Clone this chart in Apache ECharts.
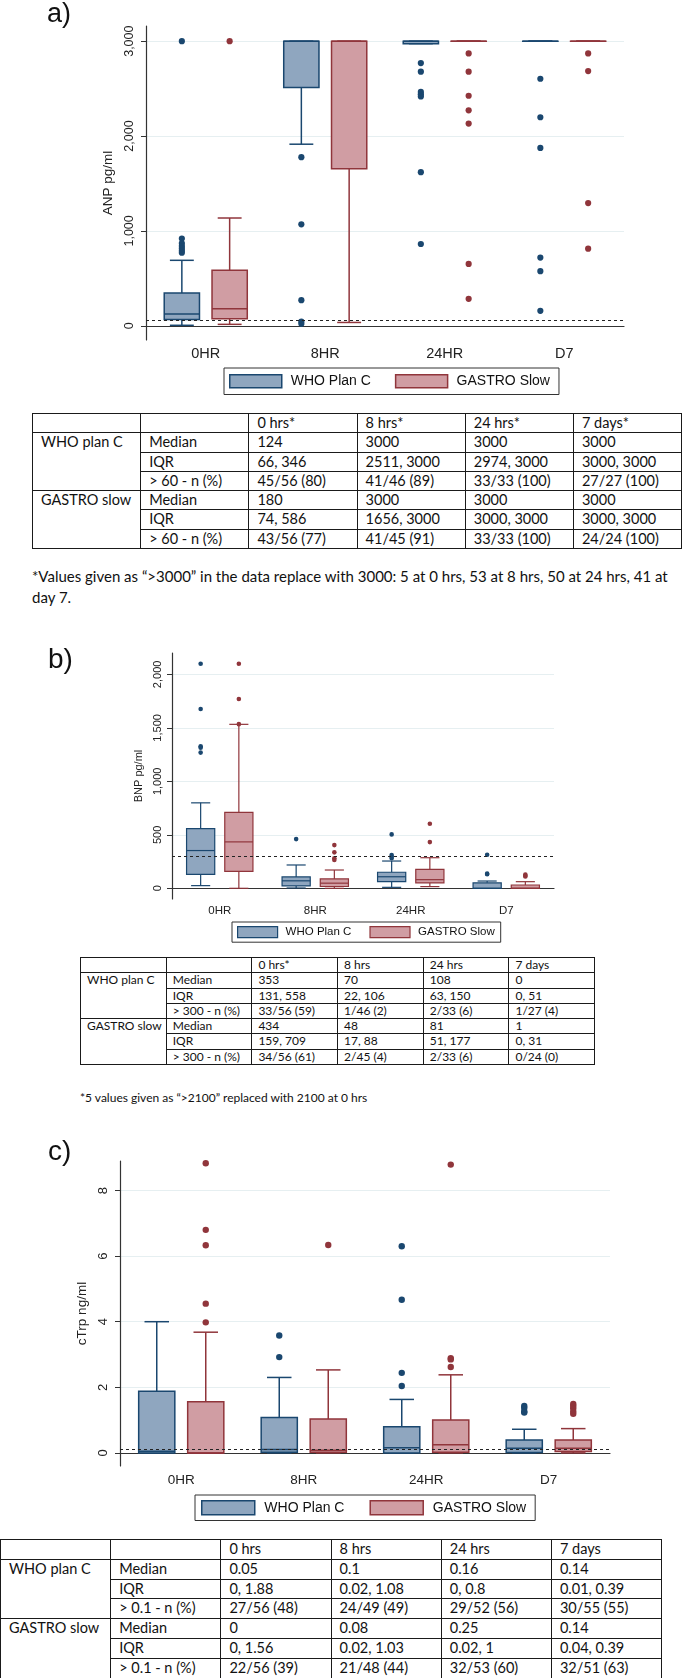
<!DOCTYPE html>
<html><head><meta charset="utf-8">
<script src="https://cdn.jsdelivr.net/npm/echarts@6/dist/echarts.min.js"></script>
<style>
html,body{margin:0;padding:0;background:#fff;}
body{width:682px;height:1678px;position:relative;overflow:hidden;}
.chart{position:absolute;left:0;width:682px;}
table.tb{position:absolute;border-collapse:collapse;table-layout:fixed;font-family:Lato,'Liberation Sans',sans-serif;color:#111;}
table.tb td{border:1px solid #1a1a1a;padding:0;white-space:nowrap;overflow:hidden;vertical-align:top;}
.note{position:absolute;font-family:Lato,'Liberation Sans',sans-serif;color:#111;white-space:nowrap;}
</style></head><body>
<div id="ca" class="chart" style="top:0;height:400px"></div>
<div id="cb" class="chart" style="top:620px;height:330px"></div>
<div id="cc" class="chart" style="top:1130px;height:400px"></div>
<script>
// ---------------- data ----------------
const categories = ['0HR', '8HR', '24HR', 'D7'];
const seriesNames = ['WHO Plan C', 'GASTRO Slow'];

// a) ANP pg/ml : [lower whisker, q1, median, q3, upper whisker]
const anpWhoBox = [[5, 66, 124, 346, 690], [1914, 2511, 3000, 3000, 3000], [2974, 2974, 3000, 3000, 3000], [3000, 3000, 3000, 3000, 3000]];
const anpGastroBox = [[15, 74, 180, 586, 1136], [35, 1656, 3000, 3000, 3000], [3000, 3000, 3000, 3000, 3000], [3000, 3000, 3000, 3000, 3000]];
const anpWhoOut = [[3000, 920, 870, 840, 815, 790, 770], [1777, 1069, 270, 45, 20], [2769, 2678, 2465, 2440, 2418, 1619, 862], [2604, 2198, 1875, 719, 575, 158]];
const anpGastroOut = [[3000], [], [2871, 2678, 2425, 2271, 2131, 652, 284], [2871, 2685, 1293, 813]];
const anpTicks = [0, 1000, 2000, 3000];
const anpRef = 60;

// b) BNP pg/ml
const bnpWhoBox = [[25, 131, 353, 558, 799], [3, 22, 70, 106, 218], [9, 63, 108, 150, 255], [0, 0, 0, 51, 68]];
const bnpGastroBox = [[0, 159, 434, 709, 1533], [0, 17, 48, 88, 171], [16, 51, 81, 177, 286], [0, 0, 1, 31, 62]];
const bnpWhoOut = [[2100, 1676, 1328, 1315, 1269], [460], [504, 311, 295, 282], [314, 137, 131]];
const bnpGastroOut = [[2100, 1770, 1535], [404, 336, 280, 264], [603, 432], [128, 118, 110]];
const bnpTicks = [0, 500, 1000, 1500, 2000];
const bnpRef = 300;

// c) cTrp ng/ml
const trpWhoBox = [[0, 0, 0.05, 1.88, 4.0], [0, 0.02, 0.1, 1.08, 2.30], [0, 0, 0.16, 0.8, 1.63], [0, 0.01, 0.14, 0.39, 0.72]];
const trpGastroBox = [[0, 0, 0, 1.56, 3.68], [0, 0.02, 0.08, 1.03, 2.53], [0, 0.02, 0.25, 1.0, 2.38], [0, 0.04, 0.14, 0.39, 0.74]];
const trpWhoOut = [[], [3.58, 2.92], [6.30, 4.67, 2.44, 2.04], [1.43, 1.37, 1.26, 1.23]];
const trpGastroOut = [[8.83, 6.80, 6.33, 4.55, 3.98], [6.34], [8.79, 2.89, 2.85, 2.62], [1.49, 1.43, 1.36, 1.26, 1.19]];
const trpTicks = [0, 2, 4, 6, 8];
const trpRef = 0.1;

// tables
const groupLabels = ['WHO plan C', 'GASTRO slow'];
const statLabels = ['Median', 'IQR'];
const tableAHead = ['0 hrs*', '8 hrs*', '24 hrs*', '7 days*'];
const tableAThreshold = '> 60 - n (%)';
const tableAWho = [['124', '3000', '3000', '3000'], ['66, 346', '2511, 3000', '2974, 3000', '3000, 3000'], ['45/56 (80)', '41/46 (89)', '33/33 (100)', '27/27 (100)']];
const tableAGastro = [['180', '3000', '3000', '3000'], ['74, 586', '1656, 3000', '3000, 3000', '3000, 3000'], ['43/56 (77)', '41/45 (91)', '33/33 (100)', '24/24 (100)']];
const noteA = ['*Values given as \u201c>3000\u201d in the data replace with 3000: 5 at 0 hrs, 53 at 8 hrs, 50 at 24 hrs, 41 at', 'day 7.'];

const tableBHead = ['0 hrs*', '8 hrs', '24 hrs', '7 days'];
const tableBThreshold = '> 300 - n (%)';
const tableBWho = [['353', '70', '108', '0'], ['131, 558', '22, 106', '63, 150', '0, 51'], ['33/56 (59)', '1/46 (2)', '2/33 (6)', '1/27 (4)']];
const tableBGastro = [['434', '48', '81', '1'], ['159, 709', '17, 88', '51, 177', '0, 31'], ['34/56 (61)', '2/45 (4)', '2/33 (6)', '0/24 (0)']];
const noteB = ['*5 values given as \u201c>2100\u201d replaced with 2100 at 0 hrs'];

const tableCHead = ['0 hrs', '8 hrs', '24 hrs', '7 days'];
const tableCThreshold = '> 0.1 - n (%)';
const tableCWho = [['0.05', '0.1', '0.16', '0.14'], ['0, 1.88', '0.02, 1.08', '0, 0.8', '0.01, 0.39'], ['27/56 (48)', '24/49 (49)', '29/52 (56)', '30/55 (55)']];
const tableCGastro = [['0', '0.08', '0.25', '0.14'], ['0, 1.56', '0.02, 1.03', '0.02, 1', '0.04, 0.39'], ['22/56 (39)', '21/48 (44)', '32/53 (60)', '32/51 (63)']];

// ---------------- styles ----------------
const WHO_LINE = '#1a476f', WHO_FILL = '#8fa6bf';
const GAS_LINE = '#90353b', GAS_FILL = '#d09da3';
const BOX_W = 0.295, CAP_W = 0.2, OFF = 0.2;
const SANS = 'Liberation Sans';

function boxRender(offset, fill, stroke, lw) {
  return function (params, api) {
    const c = api.value(0);
    const band = api.size([1, 0])[0];
    const cx = api.coord([c, 0])[0] + offset * band;
    const w = BOX_W * band, cap = CAP_W * band;
    const y = [1, 2, 3, 4, 5].map(d => api.coord([c, api.value(d)])[1]);
    const ls = { stroke: stroke, lineWidth: lw, fill: null };
    return { type: 'group', children: [
      { type: 'line', shape: { x1: cx, y1: y[1], x2: cx, y2: y[0] }, style: ls },
      { type: 'line', shape: { x1: cx, y1: y[3], x2: cx, y2: y[4] }, style: ls },
      { type: 'line', shape: { x1: cx - cap / 2, y1: y[0], x2: cx + cap / 2, y2: y[0] }, style: ls },
      { type: 'line', shape: { x1: cx - cap / 2, y1: y[4], x2: cx + cap / 2, y2: y[4] }, style: ls },
      { type: 'rect', shape: { x: cx - w / 2, y: y[3], width: w, height: Math.max(y[1] - y[3], 0.01) }, style: { fill: fill, stroke: stroke, lineWidth: lw } },
      { type: 'line', shape: { x1: cx - w / 2, y1: y[2], x2: cx + w / 2, y2: y[2] }, style: ls }
    ]};
  };
}
function dotRender(offset, color, r) {
  return function (params, api) {
    const band = api.size([1, 0])[0];
    const p = api.coord([api.value(0), api.value(1)]);
    return { type: 'circle', shape: { cx: p[0] + offset * band, cy: p[1], r: r }, style: { fill: color } };
  };
}
function boxData(box) { return categories.map((c, i) => [c].concat(box[i])); }
function outData(out) { const d = []; categories.forEach((c, i) => out[i].forEach(v => d.push([c, v]))); return d; }

function makeOption(cfg) {
  const fmt = v => Number(v).toLocaleString('en-US');
  return {
    animation: false,
    graphic: [{ type: 'text', left: cfg.letterPos[0], top: cfg.letterPos[1], style: { text: cfg.letter, font: cfg.letterFont, fill: '#111' } }],
    grid: Object.assign({ outerBoundsMode: 'none', containLabel: false }, cfg.grid),
    legend: {
      left: cfg.legend.left, top: cfg.legend.top, orient: 'horizontal', selectedMode: false,
      itemWidth: cfg.legend.iw, itemHeight: cfg.legend.ih, itemGap: cfg.legend.gap,
      padding: cfg.legend.pad, borderColor: '#333', borderWidth: 1, borderRadius: 0, backgroundColor: '#fff',
      icon: 'rect',
      textStyle: { fontFamily: SANS, fontSize: cfg.legend.fs, color: '#111', padding: [0, 0, 0, cfg.legend.tp], lineHeight: cfg.legend.ih },
      data: [
        { name: seriesNames[0], itemStyle: { color: WHO_FILL, borderColor: WHO_LINE, borderWidth: cfg.lw } },
        { name: seriesNames[1], itemStyle: { color: GAS_FILL, borderColor: GAS_LINE, borderWidth: cfg.lw } }
      ]
    },
    xAxis: {
      type: 'category', data: categories, boundaryGap: true,
      axisLine: { lineStyle: { color: '#333', width: 1.2 } }, axisTick: { show: false },
      axisLabel: { margin: cfg.xMargin, fontFamily: SANS, fontSize: cfg.xfs, color: '#222' },
      splitLine: { show: false }
    },
    yAxis: {
      type: 'value', min: cfg.min, max: cfg.max,
      name: cfg.yName, nameLocation: 'middle', nameGap: cfg.nameGap, nameRotate: 90,
      nameTextStyle: { fontFamily: SANS, fontSize: cfg.nfs, color: '#222' },
      axisLine: { show: true, lineStyle: { color: '#333', width: 1.2 } },
      axisTick: { show: true, length: 5, inside: false, customValues: cfg.ticks, lineStyle: { color: '#333' } },
      axisLabel: { rotate: 90, margin: cfg.yMargin, customValues: cfg.ticks, formatter: fmt, fontFamily: SANS, fontSize: cfg.yfs, color: '#222' },
      splitLine: { show: true, lineStyle: { color: '#e6eff1', width: 1 } }
    },
    series: [
      { type: 'custom', name: seriesNames[0], silent: true, encode: { x: 0, y: [1, 2, 3, 4, 5] }, itemStyle: { color: WHO_FILL, borderColor: WHO_LINE }, renderItem: boxRender(-OFF, WHO_FILL, WHO_LINE, cfg.lw), data: boxData(cfg.whoBox), z: 2 },
      { type: 'custom', name: seriesNames[1], silent: true, encode: { x: 0, y: [1, 2, 3, 4, 5] }, itemStyle: { color: GAS_FILL, borderColor: GAS_LINE }, renderItem: boxRender(OFF, GAS_FILL, GAS_LINE, cfg.lw), data: boxData(cfg.gasBox), z: 2 },
      { type: 'custom', name: seriesNames[0], silent: true, encode: { x: 0, y: 1 }, renderItem: dotRender(-OFF, WHO_LINE, cfg.r), data: outData(cfg.whoOut), z: 3 },
      { type: 'custom', name: seriesNames[1], silent: true, encode: { x: 0, y: 1 }, renderItem: dotRender(OFF, GAS_LINE, cfg.r), data: outData(cfg.gasOut), z: 3 },
      { type: 'line', name: 'ref', data: [], silent: true, z: 5,
        markLine: { silent: true, symbol: 'none', label: { show: false }, animation: false,
          lineStyle: { type: [3, 3], color: '#222', width: 1 }, data: [{ yAxis: cfg.ref }] } }
    ]
  };
}

const chartA = echarts.init(document.getElementById('ca'), null, { renderer: 'canvas' });
chartA.setOption(makeOption({
  letter: 'a)', letterPos: [47, 1], letterFont: '27px "Liberation Sans"',
  grid: { left: 146, right: 58, top: 26, bottom: 60 },
  legend: { left: 224, top: 368, iw: 52, ih: 13, gap: 24, pad: [6, 9, 6, 5], fs: 14, tp: 4 },
  lw: 1.5, r: 3.1, min: -150, max: 3160, ticks: anpTicks, ref: anpRef,
  yName: 'ANP pg/ml', nameGap: 30, nfs: 13.5, yMargin: 10, yfs: 12.5,
  xMargin: 6, xfs: 14.5,
  whoBox: anpWhoBox, gasBox: anpGastroBox, whoOut: anpWhoOut, gasOut: anpGastroOut
}));

const chartB = echarts.init(document.getElementById('cb'), null, { renderer: 'canvas' });
chartB.setOption(makeOption({
  letter: 'b)', letterPos: [48, 26], letterFont: '28px "Liberation Sans"',
  grid: { left: 172, right: 128, top: 33, bottom: 51 },
  legend: { left: 232, top: 302, iw: 40, ih: 11, gap: 18, pad: [4, 6, 4, 5], fs: 11.5, tp: 3 },
  lw: 1.2, r: 2.3, min: -100, max: 2200, ticks: bnpTicks, ref: bnpRef,
  yName: 'BNP pg/ml', nameGap: 20, nfs: 11, yMargin: 9, yfs: 11,
  xMargin: 6, xfs: 11.5,
  whoBox: bnpWhoBox, gasBox: bnpGastroBox, whoOut: bnpWhoOut, gasOut: bnpGastroOut
}));

const chartC = echarts.init(document.getElementById('cc'), null, { renderer: 'canvas' });
chartC.setOption(makeOption({
  letter: 'c)', letterPos: [48, 8], letterFont: '28px "Liberation Sans"',
  grid: { left: 120, right: 72, top: 31, bottom: 64 },
  legend: { left: 195, top: 365, iw: 53, ih: 14, gap: 25, pad: [5, 9, 5, 6], fs: 14, tp: 4.6 },
  lw: 1.5, r: 3.2, min: -0.4, max: 8.9, ticks: trpTicks, ref: trpRef,
  yName: 'cTrp ng/ml', nameGap: 27, nfs: 13.5, yMargin: 10, yfs: 13,
  xMargin: 7, xfs: 13.5,
  whoBox: trpWhoBox, gasBox: trpGastroBox, whoOut: trpWhoOut, gasOut: trpGastroOut
}));

// ---------------- tables ----------------
function buildTable(cfg) {
  const t = document.createElement('table');
  t.className = 'tb';
  t.style.left = cfg.left + 'px';
  t.style.top = cfg.top + 'px';
  t.style.width = (cfg.colW * 6) + 'px';
  t.style.fontSize = cfg.fs + 'px';
  const cg = document.createElement('colgroup');
  for (let i = 0; i < 6; i++) { const c = document.createElement('col'); c.style.width = cfg.colW + 'px'; cg.appendChild(c); }
  t.appendChild(cg);
  const cellStyle = td => { td.style.height = cfg.rowH + 'px'; td.style.lineHeight = cfg.rowH + 'px'; td.style.paddingLeft = cfg.pad + 'px'; };
  const mkRow = cells => {
    const tr = document.createElement('tr');
    tr.style.height = cfg.rowH + 'px';
    cells.forEach(c => { const td = document.createElement('td'); td.textContent = c.text; if (c.rs) td.rowSpan = c.rs; cellStyle(td); tr.appendChild(td); });
    t.appendChild(tr);
  };
  mkRow([{ text: '' }, { text: '' }].concat(cfg.head.map(h => ({ text: h }))));
  [cfg.who, cfg.gas].forEach((g, gi) => {
    const labels = statLabels.concat([cfg.thr]);
    g.forEach((row, ri) => {
      const cells = [];
      if (ri === 0) cells.push({ text: groupLabels[gi], rs: 3 });
      cells.push({ text: labels[ri] });
      row.forEach(v => cells.push({ text: v }));
      mkRow(cells);
    });
  });
  document.body.appendChild(t);
}
function buildNote(lines, left, top, fs, lh) {
  const d = document.createElement('div');
  d.className = 'note';
  d.style.left = left + 'px'; d.style.top = top + 'px';
  d.style.fontSize = fs + 'px'; d.style.lineHeight = lh + 'px';
  lines.forEach((l, i) => { if (i) d.appendChild(document.createElement('br')); d.appendChild(document.createTextNode(l)); });
  document.body.appendChild(d);
}
buildTable({ left: 32, top: 413, colW: 108.2, rowH: 18.3, fs: 14.5, pad: 8, head: tableAHead, thr: tableAThreshold, who: tableAWho, gas: tableAGastro });
buildNote(noteA, 32, 566, 15, 21);
buildTable({ left: 80, top: 957, colW: 85.7, rowH: 14.3, fs: 12, pad: 6, head: tableBHead, thr: tableBThreshold, who: tableBWho, gas: tableBGastro });
buildNote(noteB, 80, 1090, 12, 16);
buildTable({ left: 0, top: 1539, colW: 110.2, rowH: 18.8, fs: 14.5, pad: 8, head: tableCHead, thr: tableCThreshold, who: tableCWho, gas: tableCGastro });
</script>
</body></html>
